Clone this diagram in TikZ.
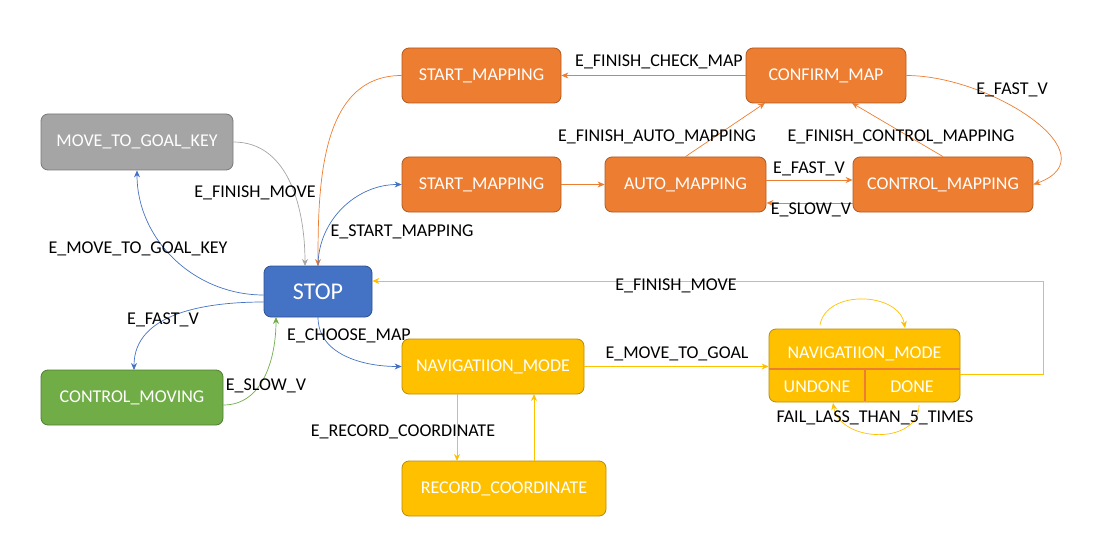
\documentclass[tikz,border=0pt]{standalone}
\usepackage{fontspec}
\setmainfont{Carlito}
\usetikzlibrary{arrows.meta}
\definecolor{cor}{HTML}{ED7D31}
\definecolor{corD}{HTML}{AE5A21}
\definecolor{cbl}{HTML}{4472C4}
\definecolor{cblD}{HTML}{2F528F}
\definecolor{cgr}{HTML}{A5A5A5}
\definecolor{cgrD}{HTML}{787878}
\definecolor{cgn}{HTML}{70AD47}
\definecolor{cgnD}{HTML}{507E32}
\definecolor{cye}{HTML}{FFC000}
\definecolor{cyeD}{HTML}{BC8C00}
\tikzset{
  st/.style={draw, rounded corners=7pt, line width=0.8pt, text=white, font=\fontsize{18}{19}\selectfont, inner sep=0pt, anchor=center},
  lab/.style={font=\fontsize{18}{20}\selectfont, text=black, inner sep=1pt, yshift=-2pt},
  ar/.style={-{Stealth[length=7pt,width=6pt]}, line width=0.7pt},
}
\begin{document}
\begin{tikzpicture}[x=1pt,y=-1pt]
\useasboundingbox (0,0) rectangle (1097,548);
% nodes
\node[st, fill=cgr, draw=cgrD, minimum width=192pt, minimum height=56pt] (mk) at (137,142) {MOVE\_TO\_GOAL\_KEY};
\node[st, fill=cbl, draw=cblD, minimum width=108pt, minimum height=51pt, font=\fontsize{24}{26}\selectfont] (stop) at (318,291.5) {STOP};
\node[st, fill=cgn, draw=cgnD, minimum width=182pt, minimum height=55pt] (cm) at (132,397.5) {CONTROL\_MOVING};
\node[st, fill=cor, draw=corD, minimum width=159pt, minimum height=55pt] (sm1) at (481.5,75.5) {START\_MAPPING};
\node[st, fill=cor, draw=corD, minimum width=160pt, minimum height=55pt] (conf) at (826,75.5) {CONFIRM\_MAP};
\node[st, fill=cor, draw=corD, minimum width=159pt, minimum height=55pt] (sm2) at (481.5,184.5) {START\_MAPPING};
\node[st, fill=cor, draw=corD, minimum width=161pt, minimum height=55pt] (auto) at (685.5,184.5) {AUTO\_MAPPING};
\node[st, fill=cor, draw=corD, minimum width=180pt, minimum height=55pt] (ctrl) at (943,184.5) {CONTROL\_MAPPING};
\node[st, fill=cye, draw=cyeD, minimum width=182pt, minimum height=55pt] (nav) at (493,366.5) {NAVIGATIION\_MODE};
\node[st, fill=cye, draw=cyeD, minimum width=204pt, minimum height=55pt] (rec) at (504,488.5) {RECORD\_COORDINATE};
\node[st, fill=cye, draw=cyeD, minimum width=191pt, minimum height=73pt] (nb) at (864.5,365.5) {};
\draw[cor, line width=2.5pt] (nb.west |- 0,369) -- (nb.east |- 0,369);
\draw[cor, line width=2.5pt] (865,369) -- (865,401);
\node[text=white, font=\fontsize{18}{19}\selectfont] (nbt) at (864.5,354) {NAVIGATIION\_MODE};
\node[text=white, font=\fontsize{18}{19}\selectfont] (nbu) at (817,387) {UNDONE};
\node[text=white, font=\fontsize{18}{19}\selectfont] (nbd) at (912,387) {DONE};
% edges
\draw[ar, cbl] (stop.west |- 0,295) to[out=180,in=-90] (mk.south);
\node[lab] (lmk) at (138,247) {E\_MOVE\_TO\_GOAL\_KEY};
\draw[ar, cgr] (mk.east) to[out=0,in=90] (305,266);
\node[lab] (lfm) at (255,191) {E\_FINISH\_MOVE};
\draw[ar, cor] (sm1.west) to[out=180,in=90] (318,266);
\draw[ar, cbl] (318,266) to[out=90,in=180] (sm2.west);
\node[lab] (lsm) at (402,230) {E\_START\_MAPPING};
\draw[ar, cbl] (stop.west |- 0,302) to[out=180,in=90] (134,370);
\node[lab] (lfv) at (163,318) {E\_FAST\_V};
\draw[ar, cgn] (cm.east |- 0,405) to[out=0,in=-90] (276,317);
\node[lab] (lsv) at (266,384) {E\_SLOW\_V};
\draw[ar, cbl] (318,317) to[out=-90,in=180] (nav.west);
\node[lab] (lcm) at (349,334) {E\_CHOOSE\_MAP};
\draw[ar, cye] (nav.east) -- (nb.west |- nav.east);
\node[lab] (lmg) at (677,352) {E\_MOVE\_TO\_GOAL};
\draw[ar, cye] (nb.east |- 0,374) -- (1043,374) -- (1043,281) -- (stop.east |- 0,281);
\node[lab] (lfm2) at (676,284) {E\_FINISH\_MOVE};
\draw[ar, cye] (457,394) -- (457,461);
\node[lab] (lrc) at (403,430) {E\_RECORD\_COORDINATE};
\draw[ar, cye] (534,461) -- (534,394);
\draw[ar, cye] (820,325) to[out=80,in=100, looseness=1.1] (905,328);
\draw[ar, cye] (919,405) to[out=-90,in=-80, looseness=1.2] (833,403);
\node[lab] (lfl) at (875,416) {FAIL\_LASS\_THAN\_5\_TIMES};
\draw[ar, cor] (sm2.east) -- (auto.west);
\draw[ar, cor] (auto.east |- 0,180) -- (ctrl.west |- 0,180);
\node[lab] (lfv2) at (809,167) {E\_FAST\_V};
\draw[ar, cor] (ctrl.west |- 0,203) -- (auto.east |- 0,203);
\node[lab] (lsv2) at (811,208) {E\_SLOW\_V};
\draw[ar, cor] (auto.north) -- (765,103);
\node[lab] (lfa) at (657,135) {E\_FINISH\_AUTO\_MAPPING};
\draw[ar, cor] (ctrl.north) -- (852,103);
\node[lab] (lfc) at (901,135) {E\_FINISH\_CONTROL\_MAPPING};
\draw[ar, cor] (conf.west) -- (sm1.east);
\node[lab] (lcheck) at (659,60) {E\_FINISH\_CHECK\_MAP};
\draw[ar, cor] (conf.east) to[out=0,in=20, looseness=1.3] (ctrl.east);
\node[lab] (lfv3) at (1012,88) {E\_FAST\_V};
\end{tikzpicture}
\end{document}
